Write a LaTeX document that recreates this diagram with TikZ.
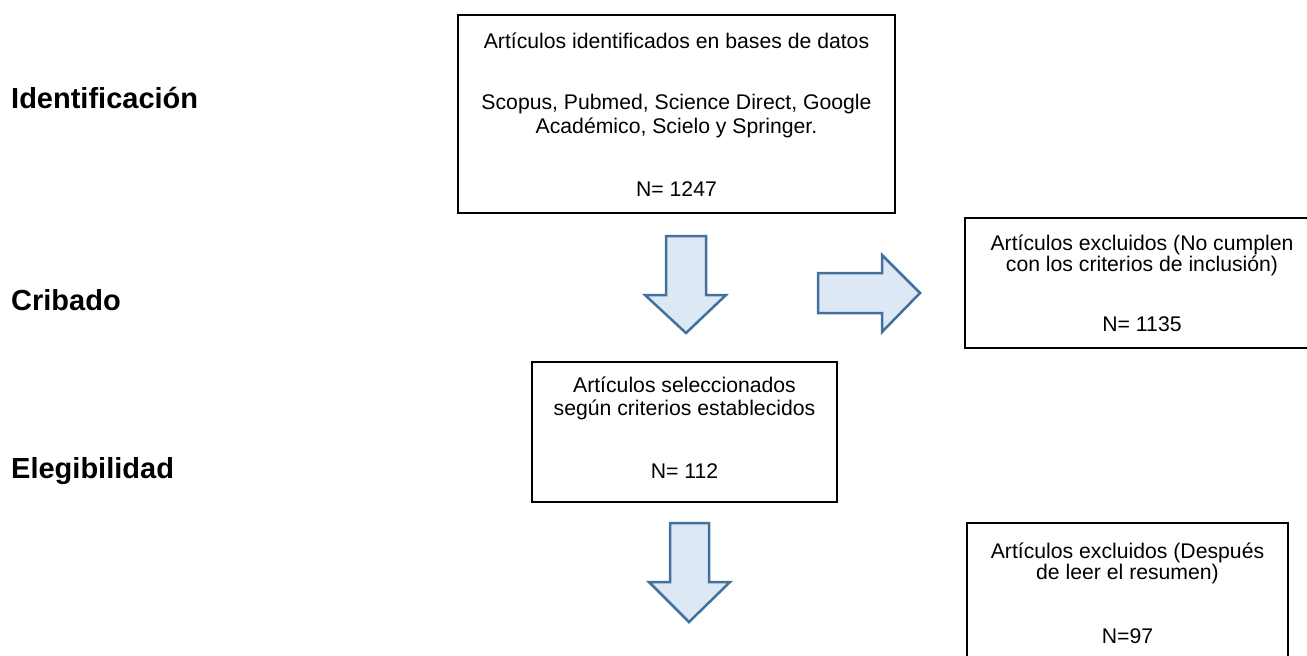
\documentclass[tikz,border=0pt]{standalone}
\usepackage{fontspec}
\setmainfont{Liberation Sans}
\definecolor{arrowline}{RGB}{65,113,156}
\definecolor{arrowfill}{RGB}{221,232,245}
\begin{document}
\begin{tikzpicture}[x=1pt,y=1pt,
  box/.style={draw=black,line width=2.2pt,rectangle,inner sep=0pt},
  txt/.style={font=\fontsize{21.2}{24}\selectfont,anchor=base,inner sep=0pt},
  stage/.style={font=\fontsize{29}{34}\selectfont\bfseries,anchor=base west,inner sep=0pt},
  blockarrow/.style={draw=arrowline,fill=arrowfill,line width=2.5pt,line join=miter}]
\useasboundingbox (0,0) rectangle (1307,-656);

% stage labels
\node[stage] (lid) at (11,-108) {Identificación};
\node[stage] (lcr) at (11,-310) {Cribado};
\node[stage] (lel) at (11,-478) {Elegibilidad};

% identified records
\node[box,minimum width=437,minimum height=198] (b1) at (676.5,-114) {};
\node[txt] (b1a) at (676.5,-48) {Artículos identificados en bases de datos};
\node[txt] (b1b) at (676.5,-109) {Scopus, Pubmed, Science Direct, Google};
\node[txt] (b1c) at (676.5,-133) {Académico, Scielo y Springer.};
\node[txt] (b1d) at (676.5,-196) {N= 1247};

% excluded at screening
\node[box,minimum width=354,minimum height=130] (e1) at (1142,-283) {};
\node[txt] (e1a) at (1142,-250) {Artículos excluidos (No cumplen};
\node[txt] (e1b) at (1142,-271.5) {con los criterios de inclusión)};
\node[txt] (e1c) at (1142,-331) {N= 1135};

% selected records
\node[box,minimum width=305,minimum height=140] (b2) at (684.5,-432) {};
\node[txt] (b2a) at (684.5,-392) {Artículos seleccionados};
\node[txt] (b2b) at (684.5,-415) {según criterios establecidos};
\node[txt] (b2c) at (684.5,-478) {N= 112};

% excluded after reading the abstract
\node[box,minimum width=321,minimum height=137] (e2) at (1127.5,-591.5) {};
\node[txt] (e2a) at (1127.5,-558) {Artículos excluidos (Después};
\node[txt] (e2b) at (1127.5,-579) {de leer el resumen)};
\node[txt] (e2c) at (1127.5,-643) {N=97};

% block arrows
\draw[blockarrow] (666,-236) -- (706,-236) -- (706,-295) -- (726,-295) -- (686,-333)
  -- (645,-295) -- (666,-295) -- cycle;
\draw[blockarrow] (818,-273) -- (882,-273) -- (882,-255) -- (920,-293) -- (882,-332)
  -- (882,-313) -- (818,-313) -- cycle;
\draw[blockarrow] (670,-523) -- (709,-523) -- (709,-582) -- (730,-582) -- (689,-622)
  -- (649,-582) -- (670,-582) -- cycle;
\end{tikzpicture}
\end{document}
